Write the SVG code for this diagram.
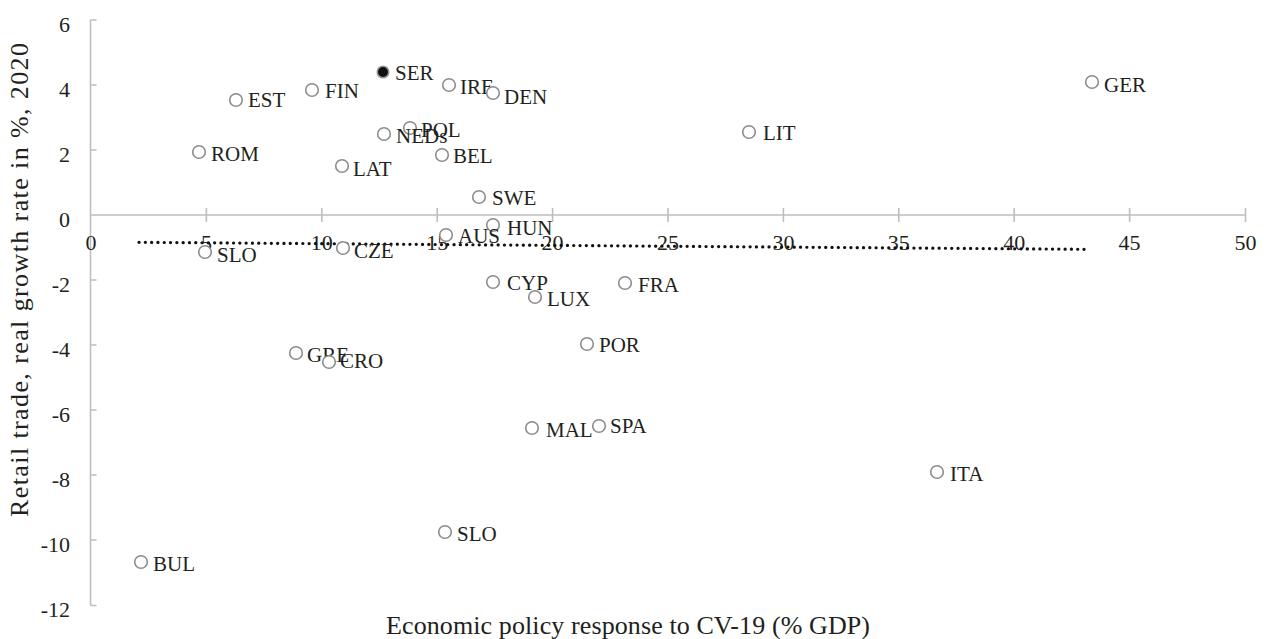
<svg xmlns="http://www.w3.org/2000/svg" width="1264" height="639" viewBox="0 0 1264 639">
<style>
text{font-family:"Liberation Serif","Times New Roman",serif;fill:#231f20}
.tk{font-size:22px}
.yt{text-anchor:end}
.xt{text-anchor:middle}
.lb{font-size:21px}
.ax{stroke:#bfbfbf;stroke-width:1.6;fill:none}
.pt{fill:#fff;stroke:#8c8c8c;stroke-width:1.6}
.ttl{font-size:26px}
</style>
<rect width="1264" height="639" fill="#fff"/>
<g id="axes">
<path class="ax" d="M90.5 20V605.5M91 215H1246"/>
<path class="ax" d="M90.5 20h6M90.5 85h6M90.5 150h6M90.5 280h6M90.5 345h6M90.5 410h6M90.5 475h6M90.5 540h6M90.5 605.5h6"/>
<path class="ax" d="M206.4 208v14M321.8 208v14M437.2 208v14M552.6 208v14M668 208v14M783.4 208v14M898.8 208v14M1014.2 208v14M1129.6 208v14M1245.5 208v14"/>
<g class="tk yt">
<text x="70" y="32">6</text>
<text x="70" y="97">4</text>
<text x="70" y="162">2</text>
<text x="70" y="227">0</text>
<text x="70" y="292">-2</text>
<text x="70" y="357">-4</text>
<text x="70" y="422">-6</text>
<text x="70" y="487">-8</text>
<text x="70" y="552">-10</text>
<text x="70" y="617">-12</text>
</g>
<g class="tk xt">
<text x="91" y="250">0</text>
<text x="206.4" y="250">5</text>
<text x="321.8" y="250">10</text>
<text x="437.2" y="250">15</text>
<text x="552.6" y="250">20</text>
<text x="668" y="250">25</text>
<text x="783.4" y="250">30</text>
<text x="898.8" y="250">35</text>
<text x="1014.2" y="250">40</text>
<text x="1129.6" y="250">45</text>
<text x="1245.5" y="250">50</text>
</g>
<text class="ttl" x="628" y="634" text-anchor="middle" textLength="484">Economic policy response to CV-19 (% GDP)</text>
<text class="ttl" transform="translate(28 280) rotate(-90)" x="0" y="0" text-anchor="middle" textLength="474">Retail trade, real growth rate in %, 2020</text>
</g>
<g id="connectors">
<path id="trendline" d="M139 242.3L1085 249.3" stroke="#111" stroke-width="3.2" stroke-linecap="round" stroke-dasharray="0.1 6.2" fill="none"/>
</g>
<g id="SER"><circle cx="383" cy="72" r="5.8" fill="#111" stroke="#9a9a9a" stroke-width="1.6"/><text class="lb" x="395" y="80">SER</text></g>
<g id="FIN"><circle class="pt" cx="312" cy="90" r="6.3"/><text class="lb" x="325" y="98">FIN</text></g>
<g id="EST"><circle class="pt" cx="236" cy="100" r="6.3"/><text class="lb" x="248" y="107">EST</text></g>
<g id="ROM"><circle class="pt" cx="199" cy="152" r="6.3"/><text class="lb" x="211" y="161">ROM</text></g>
<g id="LAT"><circle class="pt" cx="342" cy="166" r="6.3"/><text class="lb" x="353" y="176">LAT</text></g>
<g id="POL"><circle class="pt" cx="410" cy="128" r="6.3"/><text class="lb" x="421" y="137">POL</text></g>
<g id="NEDs"><circle class="pt" cx="384" cy="134" r="6.3"/><text class="lb" x="396" y="143">NEDs</text></g>
<g id="IRE"><circle class="pt" cx="449" cy="85" r="6.3"/><text class="lb" x="460" y="94">IRE</text></g>
<g id="DEN"><circle class="pt" cx="493" cy="93" r="6.3"/><text class="lb" x="504" y="104">DEN</text></g>
<g id="BEL"><circle class="pt" cx="442" cy="155" r="6.3"/><text class="lb" x="453" y="163">BEL</text></g>
<g id="LIT"><circle class="pt" cx="749" cy="132" r="6.3"/><text class="lb" x="763" y="140">LIT</text></g>
<g id="GER"><circle class="pt" cx="1092" cy="82" r="6.3"/><text class="lb" x="1104" y="92">GER</text></g>
<g id="SWE"><circle class="pt" cx="479" cy="197" r="6.3"/><text class="lb" x="492" y="205">SWE</text></g>
<g id="HUN"><circle class="pt" cx="493" cy="225" r="6.3"/><text class="lb" x="507" y="235">HUN</text></g>
<g id="AUS"><circle class="pt" cx="446" cy="235" r="6.3"/><text class="lb" x="458" y="243">AUS</text></g>
<g id="SLO-1"><circle class="pt" cx="205" cy="252" r="6.3"/><text class="lb" x="217" y="262">SLO</text></g>
<g id="CZE"><circle class="pt" cx="343" cy="248" r="6.3"/><text class="lb" x="354" y="258">CZE</text></g>
<g id="CYP"><circle class="pt" cx="493" cy="282" r="6.3"/><text class="lb" x="507" y="290">CYP</text></g>
<g id="LUX"><circle class="pt" cx="535" cy="297" r="6.3"/><text class="lb" x="547" y="306">LUX</text></g>
<g id="FRA"><circle class="pt" cx="625" cy="283" r="6.3"/><text class="lb" x="638" y="292">FRA</text></g>
<g id="POR"><circle class="pt" cx="587" cy="344" r="6.3"/><text class="lb" x="599" y="352">POR</text></g>
<g id="GRE"><circle class="pt" cx="296" cy="353" r="6.3"/><text class="lb" x="307" y="362">GRE</text></g>
<g id="CRO"><circle class="pt" cx="329" cy="362" r="6.3"/><text class="lb" x="340" y="368">CRO</text></g>
<g id="MAL"><circle class="pt" cx="532" cy="428" r="6.3"/><text class="lb" x="546" y="437">MAL</text></g>
<g id="SPA"><circle class="pt" cx="599" cy="426" r="6.3"/><text class="lb" x="610" y="433">SPA</text></g>
<g id="ITA"><circle class="pt" cx="937" cy="472" r="6.3"/><text class="lb" x="950" y="481">ITA</text></g>
<g id="SLO-2"><circle class="pt" cx="445" cy="532" r="6.3"/><text class="lb" x="457" y="541">SLO</text></g>
<g id="BUL"><circle class="pt" cx="141" cy="562" r="6.3"/><text class="lb" x="153" y="571">BUL</text></g>
</svg>
